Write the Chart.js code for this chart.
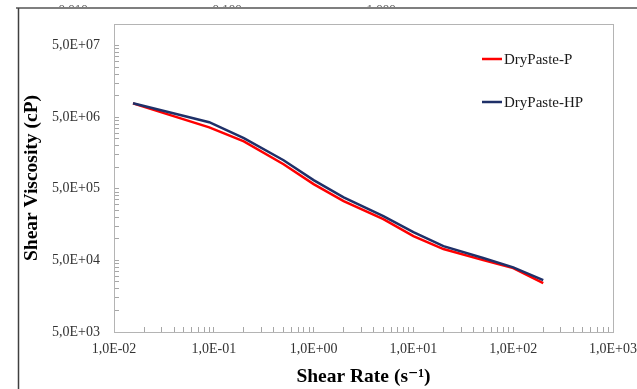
<!DOCTYPE html>
<html>
<head>
<meta charset="utf-8">
<script src="https://cdn.jsdelivr.net/npm/chart.js@4/dist/chart.umd.min.js"></script>
<style>
  html, body { margin: 0; padding: 0; background: #fff; }
  canvas { display: block; }
</style>
</head>
<body>
<canvas id="chart" width="637" height="389"></canvas>
<script>
// values
var shearRate = [0.0155, 0.09, 0.2, 0.5, 1, 2, 5, 10, 20, 50, 100, 200];
var viscP  = [7.8e6, 3.6e6, 2.3e6, 1.1e6, 5.8e5, 3.36e5, 1.88e5, 1.09e5, 7.2e4, 5.05e4, 3.9e4, 2.4e4];
var viscHP = [7.8e6, 4.25e6, 2.54e6, 1.25e6, 6.6e5, 3.8e5, 2.07e5, 1.24e5, 7.9e4, 5.4e4, 4.0e4, 2.65e4];
var seriesNames = ['DryPaste-P', 'DryPaste-HP'];
var seriesColors = ['#ff0000', '#1f3068'];

// axis decades (labelled ticks)
var xDecades = [0.01, 0.1, 1, 10, 100, 1000];
var yDecades = [5e3, 5e4, 5e5, 5e6, 5e7];
// cropped labels of the chart above this one
var topLabels = ['0,010', '0,100', '1,000'];

var SERIF = '"Liberation Serif", "Times New Roman", "DejaVu Serif", serif';

function toPoints(xs, ys) {
    var pts = [];
    for (var i = 0; i < xs.length; i++) {
        pts.push({ x: xs[i], y: ys[i] });
    }
    return pts;
}

function sci(v) {
    var parts = v.toExponential(1).split('e');
    var exp = parseInt(parts[1], 10);
    var e = String(Math.abs(exp));
    if (e.length < 2) e = '0' + e;
    return parts[0].replace('.', ',') + 'E' + (exp < 0 ? '-' : '+') + e;
}

// excel-like ticks: every k * decade, k = 1..9
function minorTicks(decades, max) {
    var out = [];
    for (var d = 0; d < decades.length; d++) {
        for (var k = 1; k <= 9; k++) {
            var v = decades[d] * k;
            if (v <= max * 1.0001) out.push({ value: v });
        }
    }
    return out;
}

function isDecade(v, decades) {
    for (var i = 0; i < decades.length; i++) {
        if (Math.abs(v / decades[i] - 1) < 1e-6) return true;
    }
    return false;
}

var frame = {
    id: 'frame',
    beforeDraw: function(chart) {
        var ctx = chart.ctx;
        ctx.save();
        ctx.beginPath();
        ctx.rect(0, 0, chart.width, 8);
        ctx.clip();
        ctx.fillStyle = '#595959';
        ctx.font = '13px ' + SERIF;
        ctx.textAlign = 'center';
        ctx.textBaseline = 'top';
        var xs = [73, 227, 381];
        for (var i = 0; i < topLabels.length; i++) {
            ctx.fillText(topLabels[i], xs[i], 3);
        }
        ctx.restore();

        ctx.save();
        ctx.strokeStyle = '#7f7f7f';
        ctx.lineWidth = 2;
        ctx.beginPath();
        ctx.moveTo(16, 8);
        ctx.lineTo(chart.width, 8);
        ctx.stroke();
        ctx.strokeStyle = '#404040';
        ctx.lineWidth = 1.5;
        ctx.beginPath();
        ctx.moveTo(18.5, 8);
        ctx.lineTo(18.5, chart.height);
        ctx.stroke();
        ctx.restore();
    },
    afterDraw: function(chart) {
        var ctx = chart.ctx;
        var a = chart.chartArea;
        ctx.save();
        ctx.strokeStyle = '#b4b4b4';
        ctx.lineWidth = 1;
        ctx.strokeRect(Math.round(a.left) + 0.5, Math.round(a.top) + 0.5,
            Math.round(a.right - a.left), Math.round(a.bottom - a.top));

        // legend
        var ds = chart.data.datasets;
        var lx = a.left + 368;
        var rows = [a.top + 35, a.top + 78];
        ctx.font = '15px ' + SERIF;
        ctx.textBaseline = 'middle';
        ctx.textAlign = 'left';
        for (var i = 0; i < ds.length; i++) {
            ctx.strokeStyle = ds[i].borderColor;
            ctx.lineWidth = 2.5;
            ctx.beginPath();
            ctx.moveTo(lx, rows[i]);
            ctx.lineTo(lx + 20, rows[i]);
            ctx.stroke();
            ctx.fillStyle = '#1a1a1a';
            ctx.fillText(ds[i].label, lx + 22, rows[i] + 1);
        }
        ctx.restore();
    }
};

var axisGray = '#a6a6a6';

new Chart(document.getElementById('chart').getContext('2d'), {
    type: 'line',
    data: {
        datasets: [{
            label: seriesNames[0],
            data: toPoints(shearRate, viscP),
            borderColor: seriesColors[0],
            borderWidth: 2.5,
            pointRadius: 0,
            tension: 0,
            order: 2
        }, {
            label: seriesNames[1],
            data: toPoints(shearRate, viscHP),
            borderColor: seriesColors[1],
            borderWidth: 2.5,
            pointRadius: 0,
            tension: 0,
            order: 1
        }]
    },
    options: {
        responsive: false,
        animation: false,
        layout: { padding: { left: 17, right: 24, top: 24, bottom: 0 } },
        plugins: {
            legend: { display: false },
            tooltip: { enabled: false }
        },
        scales: {
            x: {
                type: 'logarithmic',
                position: 'bottom',
                min: 0.01,
                max: 1000,
                afterBuildTicks: function(scale) {
                    scale.ticks = minorTicks(xDecades, 1000);
                },
                afterFit: function(scale) {
                    scale.height = 57;
                    scale.paddingLeft = 0;
                    scale.paddingRight = 0;
                },
                ticks: {
                    autoSkip: false,
                    maxRotation: 0,
                    padding: 14,
                    color: '#333',
                    font: { family: SERIF, size: 14 },
                    callback: function(v) {
                        return isDecade(v, xDecades) ? sci(v) : '';
                    }
                },
                grid: { drawOnChartArea: false, drawTicks: true, tickLength: -5, color: axisGray },
                border: { display: true, color: axisGray },
                title: {
                    display: true,
                    text: 'Shear Rate (s\u207B\u00B9)',
                    color: '#000',
                    font: { family: SERIF, size: 19.5, weight: 'bold' },
                    padding: { top: 0, bottom: 0 }
                }
            },
            y: {
                type: 'logarithmic',
                position: 'left',
                min: 5e3,
                max: 1e8,
                afterBuildTicks: function(scale) {
                    scale.ticks = minorTicks(yDecades, 1e8);
                },
                afterFit: function(scale) {
                    scale.width = 97;
                    scale.paddingTop = 0;
                    scale.paddingBottom = 0;
                },
                ticks: {
                    autoSkip: false,
                    padding: 19,
                    color: '#333',
                    font: { family: SERIF, size: 14 },
                    callback: function(v) {
                        return isDecade(v, yDecades) ? sci(v) : '';
                    }
                },
                grid: { drawOnChartArea: false, drawTicks: true, tickLength: -5, color: axisGray },
                border: { display: true, color: axisGray },
                title: {
                    display: true,
                    text: 'Shear Viscosity (cP)',
                    color: '#000',
                    font: { family: SERIF, size: 19.5, weight: 'bold' },
                    padding: { top: 3, bottom: 0 }
                }
            }
        }
    },
    plugins: [frame]
});
</script>
</body>
</html>
